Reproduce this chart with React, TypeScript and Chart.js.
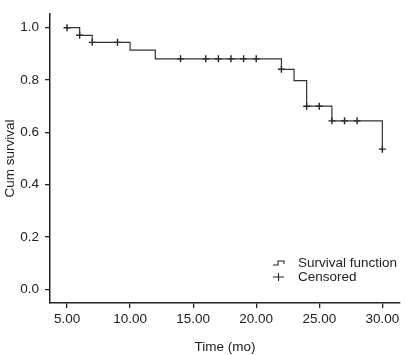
import React, { useEffect, useRef } from "react";
import { Chart, registerables } from "chart.js";

Chart.register(...registerables);

// Kaplan-Meier step points (time in months, cumulative survival)
const stepTimes = [5, 6, 7, 10, 12, 22, 23, 24, 26, 30];
const stepSurvival = [1.0, 0.971, 0.944, 0.914, 0.881, 0.841, 0.798, 0.7, 0.644, 0.536];

// Censored observations
const censorTimes = [5, 6, 7, 9, 14, 16, 17, 18, 19, 20, 22, 24, 25, 26, 27, 28, 30];
const censorSurvival = [1.0, 0.971, 0.944, 0.944, 0.881, 0.881, 0.881, 0.881, 0.881, 0.881, 0.841, 0.7, 0.7, 0.644, 0.644, 0.644, 0.536];

const xTicks = [5, 10, 15, 20, 25, 30];
const yTicks = [0, 0.2, 0.4, 0.6, 0.8, 1.0];

const legendLabels = ["Survival function", "Censored"];
const xTitle = "Time (mo)";
const yTitle = "Cum survival";

const FONT = "'Liberation Sans', Arial, sans-serif";
const INK = "#222";

const legendPlugin = {
  id: "kmLegend",
  afterDraw(chart: any) {
    const ctx = chart.ctx as CanvasRenderingContext2D;
    const area = chart.chartArea;
    const x0 = area.right - 127;
    const y1 = area.bottom - 40;
    const y2 = y1 + 14;
    ctx.save();
    ctx.strokeStyle = INK;
    ctx.lineWidth = 1.1;
    // step icon
    ctx.beginPath();
    ctx.moveTo(x0, y1 + 2);
    ctx.lineTo(x0 + 5, y1 + 2);
    ctx.lineTo(x0 + 5, y1 - 2);
    ctx.lineTo(x0 + 11, y1 - 2);
    ctx.lineTo(x0 + 11, y1 + 1);
    ctx.stroke();
    // cross icon
    ctx.beginPath();
    ctx.moveTo(x0, y2);
    ctx.lineTo(x0 + 11, y2);
    ctx.moveTo(x0 + 5.5, y2 - 4);
    ctx.lineTo(x0 + 5.5, y2 + 4);
    ctx.stroke();
    ctx.fillStyle = INK;
    ctx.font = `13.5px ${FONT}`;
    ctx.textBaseline = "middle";
    ctx.textAlign = "left";
    ctx.fillText(legendLabels[0], x0 + 25, y1);
    ctx.fillText(legendLabels[1], x0 + 25, y2);
    ctx.restore();
  },
};

export default function App() {
  const ref = useRef<HTMLCanvasElement>(null);
  useEffect(() => {
    if (!ref.current) return;
    const chart = new Chart(ref.current, {
      type: "line",
      data: {
        datasets: [
          {
            label: legendLabels[0],
            data: stepTimes.map((t, i) => ({ x: t, y: stepSurvival[i] })),
            stepped: "before",
            borderColor: "#333",
            borderWidth: 1.2,
            pointRadius: 0,
            fill: false,
          },
          {
            label: legendLabels[1],
            type: "scatter",
            data: censorTimes.map((t, i) => ({ x: t, y: censorSurvival[i] })),
            pointStyle: "cross",
            pointRadius: 3.5,
            borderColor: "#222",
            borderWidth: 1.4,
            backgroundColor: "#222",
            showLine: false,
          } as any,
        ],
      },
      options: {
        animation: false,
        responsive: false,
        maintainAspectRatio: false,
        layout: { padding: { top: 5, right: 6, left: 2, bottom: 0 } },
        plugins: {
          legend: { display: false },
          tooltip: { enabled: false },
        },
        scales: {
          x: {
            type: "linear",
            min: 3.65,
            max: 31.4,
            afterBuildTicks: (s: any) => {
              s.ticks = xTicks.map((v) => ({ value: v }));
            },
            afterFit: (s: any) => {
              s.height = 52;
            },
            grid: {
              display: true,
              drawOnChartArea: false,
              drawTicks: true,
              tickLength: 5,
              color: INK,
              lineWidth: 1.3,
            },
            border: { display: true, color: INK, width: 1.5 },
            ticks: {
              color: INK,
              font: { family: FONT, size: 13.5 },
              padding: 3,
              maxRotation: 0,
              autoSkip: false,
              callback: (v: any) => Number(v).toFixed(2),
            },
            title: {
              display: true,
              text: xTitle,
              color: INK,
              font: { family: FONT, size: 13.5 },
              padding: { top: 4, bottom: 0 },
            },
          },
          y: {
            type: "linear",
            min: -0.052,
            max: 1.052,
            afterBuildTicks: (s: any) => {
              s.ticks = yTicks.map((v) => ({ value: v }));
            },
            afterFit: (s: any) => {
              s.width = 48;
            },
            grid: {
              display: true,
              drawOnChartArea: false,
              drawTicks: true,
              tickLength: 5,
              color: INK,
              lineWidth: 1.3,
            },
            border: { display: true, color: INK, width: 1.5 },
            ticks: {
              color: INK,
              font: { family: FONT, size: 13.5 },
              padding: 6,
              autoSkip: false,
              callback: (v: any) => Number(v).toFixed(1),
            },
            title: {
              display: true,
              text: yTitle,
              color: INK,
              font: { family: FONT, size: 13.5 },
              padding: { top: 0, bottom: 2 },
            },
          },
        },
      },
      plugins: [legendPlugin],
    });
    return () => chart.destroy();
  }, []);

  return (
    <div style={{ position: "fixed", left: 0, top: 0, width: 406, height: 355, background: "#fff" }}>
      <canvas ref={ref} width={406} height={355} style={{ width: 406, height: 355 }} />
    </div>
  );
}
